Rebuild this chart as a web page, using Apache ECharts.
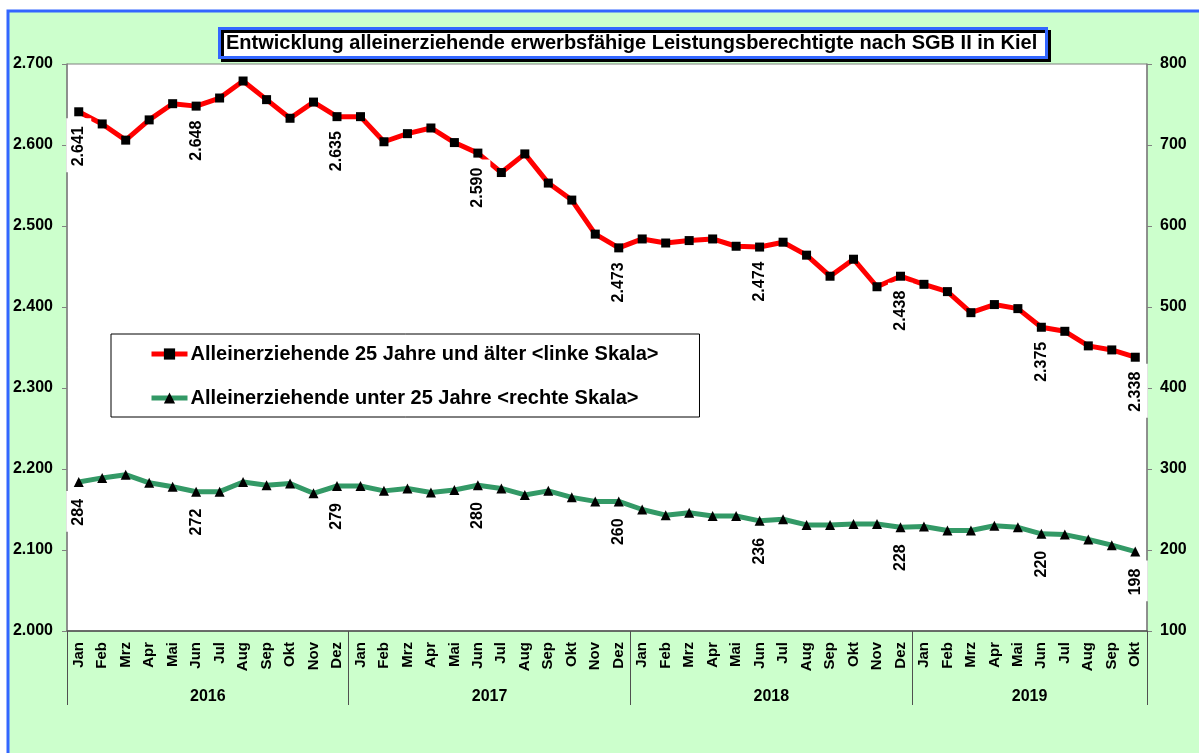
<!DOCTYPE html>
<html>
<head>
<meta charset="utf-8">
<title>Alleinerziehende in Kiel</title>
<script src="https://cdn.jsdelivr.net/npm/echarts@6/dist/echarts.min.js"></script>
<style>
html, body { margin: 0; padding: 0; background: #fff; }
#chart { width: 1199px; height: 753px; }
</style>
</head>
<body>
<div id="chart"></div>
<script>
// months Jan 2016 .. Okt 2019
const months = [
  'Jan', 'Feb', 'Mrz', 'Apr', 'Mai', 'Jun', 'Jul', 'Aug', 'Sep', 'Okt', 'Nov', 'Dez',
  'Jan', 'Feb', 'Mrz', 'Apr', 'Mai', 'Jun', 'Jul', 'Aug', 'Sep', 'Okt', 'Nov', 'Dez',
  'Jan', 'Feb', 'Mrz', 'Apr', 'Mai', 'Jun', 'Jul', 'Aug', 'Sep', 'Okt', 'Nov', 'Dez',
  'Jan', 'Feb', 'Mrz', 'Apr', 'Mai', 'Jun', 'Jul', 'Aug', 'Sep', 'Okt'
]
const years = ['2016', '2017', '2018', '2019']
const monthsPerYear = [12, 12, 12, 10]

// 25 Jahre und älter (linke Skala)
const olderValues = [
  2641, 2626, 2606, 2631, 2651, 2648, 2658, 2679, 2656, 2633, 2653, 2635,
  2635, 2604, 2614, 2621, 2603, 2590, 2566, 2589, 2553, 2532, 2490, 2473,
  2484, 2479, 2482, 2484, 2475, 2474, 2480, 2464, 2438, 2459, 2425, 2438,
  2428, 2419, 2393, 2403, 2398, 2375, 2370, 2352, 2347, 2338
]
// unter 25 Jahre (rechte Skala)
const youngerValues = [
  284, 289, 293, 283, 278, 272, 272, 284, 280, 282, 270, 279,
  279, 273, 276, 271, 274, 280, 276, 268, 273, 265, 260, 260,
  250, 243, 246, 242, 242, 236, 238, 231, 231, 232, 232, 228,
  229, 224, 224, 230, 228, 220, 219, 213, 206, 198
]
// months that carry a value label
const labelIndex = [0, 5, 11, 17, 23, 29, 35, 41, 45]

const leftMin = 2000, leftMax = 2700
const rightMin = 100, rightMax = 800
const tickStep = 100

const fontFam = '"Liberation Sans", Arial, sans-serif'

function fmt(v) {
  return String(v).replace(/\B(?=(\d{3})+(?!\d))/g, '.')
}

// year boundaries and middles on the 0..46 month scale
const yearBounds = [0]
const yearMids = []
monthsPerYear.forEach(function (n, i) {
  yearMids.push(yearBounds[i] + n / 2)
  yearBounds.push(yearBounds[i] + n)
})

const valueLabel = {
  show: true,
  position: 'bottom',
  rotate: 90,
  align: 'right',
  verticalAlign: 'middle',
  backgroundColor: '#fff',
  padding: [5, 8, 4, 6],
  color: '#000',
  fontSize: 16,
  fontWeight: 'bold',
  fontFamily: fontFam,
  formatter: function (p) { return fmt(p.value) },
}

function withLabels(values, distance) {
  return values.map(function (v, i) {
    if (labelIndex.indexOf(i) < 0) return v
    return { value: v, label: Object.assign({}, valueLabel, { distance: distance }) }
  })
}

const chart = echarts.init(document.getElementById('chart'))

const option = {
  animation: false,
  backgroundColor: '#fff',
  textStyle: { fontFamily: fontFam },
  graphic: [
    {
      type: 'rect',
      z: -10,
      silent: true,
      shape: { x: 8, y: 11, width: 1200, height: 760 },
      style: { fill: '#ccffcc', stroke: '#3366ff', lineWidth: 3 },
    },
  ],
  title: {
    text: 'Entwicklung alleinerziehende erwerbsfähige Leistungsberechtigte nach SGB II in Kiel',
    left: 219,
    top: 28,
    padding: [5, 9, 5, 7],
    backgroundColor: '#fff',
    borderColor: '#3366ff',
    borderWidth: 3,
    shadowColor: '#000',
    shadowBlur: 0,
    shadowOffsetX: 3,
    shadowOffsetY: 3,
    textStyle: {
      fontSize: 20,
      fontWeight: 'bold',
      color: '#000',
      fontFamily: fontFam,
    },
  },
  legend: {
    orient: 'vertical',
    left: 111,
    top: 334,
    padding: [10, 41, 9, 38],
    itemGap: 24,
    itemWidth: 36,
    itemHeight: 14,
    backgroundColor: '#fff',
    borderColor: '#000',
    borderWidth: 1,
    lineStyle: { width: 5 },
    textStyle: {
      fontSize: 20,
      fontWeight: 'bold',
      color: '#000',
      fontFamily: fontFam,
      padding: [0, 0, 0, -2],
    },
  },
  grid: {
    left: 67,
    right: 52,
    top: 64,
    bottom: 122,
    show: true,
    backgroundColor: '#fff',
    borderColor: '#808080',
    borderWidth: 1,
    containLabel: false,
    outerBoundsMode: 'none',
  },
  xAxis: [
    {
      type: 'category',
      position: 'bottom',
      data: months,
      boundaryGap: true,
      axisLine: { lineStyle: { color: '#505050', width: 1.5 } },
      axisTick: { interval: 0, length: 44, lineStyle: { color: '#404040' } },
      axisLabel: {
        interval: 0,
        rotate: 90,
        margin: 11,
        color: '#000',
        fontSize: 15,
        fontWeight: 'bold',
        fontFamily: fontFam,
      },
      splitLine: { show: false },
    },
    {
      type: 'value',
      position: 'bottom',
      min: 0,
      max: months.length,
      axisLine: { show: false },
      axisTick: {
        show: true,
        length: 74,
        customValues: yearBounds,
        lineStyle: { color: '#505050' },
      },
      axisLabel: {
        margin: 58,
        customValues: yearMids,
        color: '#000',
        fontSize: 16,
        fontWeight: 'bold',
        fontFamily: fontFam,
        formatter: function (v) {
          return years[yearMids.indexOf(v)]
        },
      },
      splitLine: { show: false },
    },
  ],
  yAxis: [
    {
      type: 'value',
      position: 'left',
      min: leftMin,
      max: leftMax,
      interval: tickStep,
      axisLine: { show: true, lineStyle: { color: '#808080', width: 1.5 } },
      axisTick: { show: true, length: 5, lineStyle: { color: '#808080' } },
      axisLabel: {
        margin: 14,
        color: '#000',
        fontSize: 16,
        fontWeight: 'bold',
        fontFamily: fontFam,
        formatter: fmt,
      },
      splitLine: { show: false },
    },
    {
      type: 'value',
      position: 'right',
      min: rightMin,
      max: rightMax,
      interval: tickStep,
      axisLine: { show: true, lineStyle: { color: '#808080', width: 1.5 } },
      axisTick: { show: true, length: 5, lineStyle: { color: '#808080' } },
      axisLabel: {
        margin: 13,
        color: '#000',
        fontSize: 16,
        fontWeight: 'bold',
        fontFamily: fontFam,
        formatter: fmt,
      },
      splitLine: { show: false },
    },
  ],
  series: [
    {
      name: 'Alleinerziehende 25 Jahre und älter <linke Skala>',
      type: 'line',
      xAxisIndex: 0,
      yAxisIndex: 0,
      data: withLabels(olderValues, 2),
      symbol: 'rect',
      symbolSize: 9,
      lineStyle: { color: '#ff0000', width: 5 },
      itemStyle: { color: '#000' },
      label: { show: false },
      z: 3,
    },
    {
      name: 'Alleinerziehende unter 25 Jahre <rechte Skala>',
      type: 'line',
      xAxisIndex: 0,
      yAxisIndex: 1,
      data: withLabels(youngerValues, 4),
      symbol: 'triangle',
      symbolSize: 10,
      lineStyle: { color: '#339966', width: 5 },
      itemStyle: { color: '#000' },
      label: { show: false },
      z: 3,
    },
  ],
}

chart.setOption(option)
</script>
</body>
</html>
